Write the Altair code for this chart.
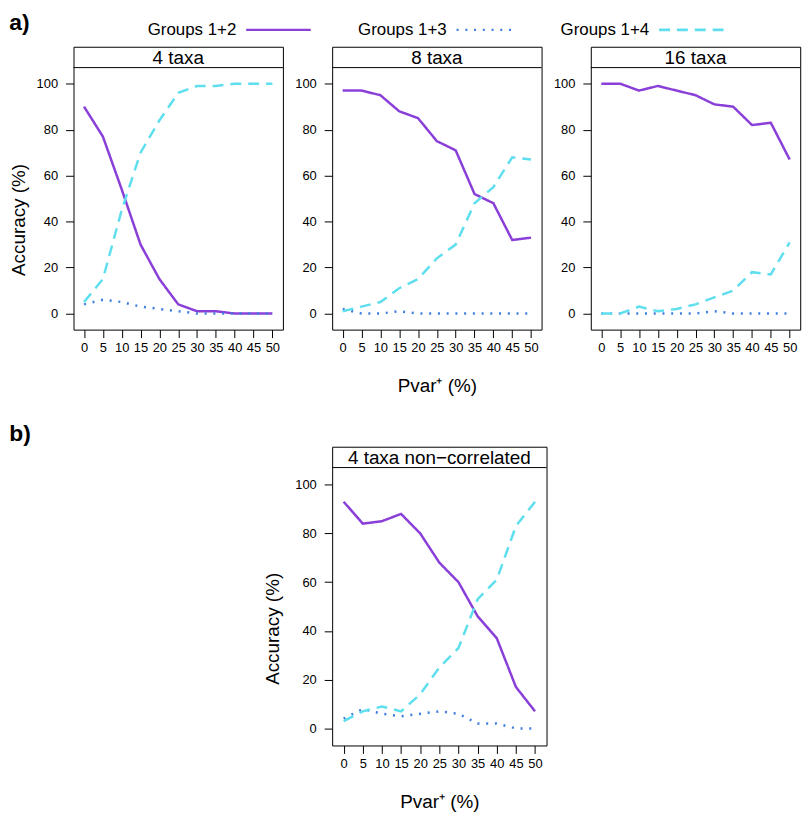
import altair as alt
import pandas as pd

# ---------------- data ----------------
pvar = [0, 5, 10, 15, 20, 25, 30, 35, 40, 45, 50]
groups = ["Groups 1+2", "Groups 1+3", "Groups 1+4"]

t4_g12 = [90, 77, 54, 30, 15, 4, 1, 1, 0, 0, 0]
t4_g13 = [4, 6, 5, 3, 2, 1, 0, 0, 0, 0, 0]
t4_g14 = [5, 15, 45, 70, 84, 96, 99, 99, 100, 100, 100]

t8_g12 = [97, 97, 95, 88, 85, 75, 71, 52, 48, 32, 33]
t8_g13 = [2, 0, 0, 1, 0, 0, 0, 0, 0, 0, 0]
t8_g14 = [1, 3, 5, 11, 15, 24, 30, 48, 55, 68, 67]

t16_g12 = [100, 100, 97, 99, 97, 95, 91, 90, 82, 83, 67]
t16_g13 = [0, 0, 0, 0, 0, 0, 1, 0, 0, 0, 0]
t16_g14 = [0, 0, 3, 1, 2, 4, 7, 10, 18, 17, 31]

nc_g12 = [93, 84, 85, 88, 80, 68, 60, 46, 37, 17, 7]
nc_g13 = [4, 8, 6, 5, 6, 7, 6, 2, 2, 0, 0]
nc_g14 = [3, 7, 9, 7, 14, 25, 33, 53, 61, 83, 93]

panel_titles = ["4 taxa", "8 taxa", "16 taxa", "4 taxa non\u2212correlated"]
y_ticks = [0, 20, 40, 60, 80, 100]
x_title = "Pvar\u207a (%)"
y_title = "Accuracy (%)"

# ---------------- styling ----------------
FONT = "Liberation Sans"
colors = ["#8A3FD8", "#3F7FE0", "#5FDFEE"]
dashes = [[1, 0], [2, 6.8], [11, 7]]
widths = [2.5, 2.5, 3]


def long_df(series):
    rows = []
    for g, vals in zip(groups, series):
        for p, v in zip(pvar, vals):
            rows.append({"pvar": p, "acc": v, "group": g})
    return pd.DataFrame(rows)


one = pd.DataFrame({"k": [0]})


def panel(series, title, width, height, xdom, xtitle=None, ytitle=None,
          ytitle_x=-60, ytitle_y=174, extras=()):
    hdr = 21
    xaxis = alt.Axis(values=pvar, tickSize=8, labelPadding=4, domain=False, grid=False,
                     labelFontSize=13, labelOverlap=False, labelFlush=False,
                     tickColor="black", labelColor="black", labelFont=FONT,
                     title=xtitle, titleFontSize=19, titleFontWeight="normal",
                     titleY=56, titleBaseline="middle", titleColor="black", titleFont=FONT)
    yaxis = alt.Axis(values=y_ticks, tickSize=8, labelPadding=8, domain=False, grid=False,
                     labelFontSize=13, tickColor="black", labelColor="black", labelFont=FONT,
                     title=ytitle, titleFontSize=19, titleFontWeight="normal",
                     titleX=ytitle_x, titleY=ytitle_y, titleBaseline="middle",
                     titleColor="black", titleFont=FONT)
    lines = alt.Chart(long_df(series)).mark_line(strokeCap="butt").encode(
        x=alt.X("pvar:Q", scale=alt.Scale(domain=xdom, nice=False, zero=False), axis=xaxis),
        y=alt.Y("acc:Q", scale=alt.Scale(domain=[-7, 107], range=[height, hdr], nice=False, zero=False),
                axis=yaxis),
        color=alt.Color("group:N", scale=alt.Scale(domain=groups, range=colors), legend=None),
        strokeDash=alt.StrokeDash("group:N", scale=alt.Scale(domain=groups, range=dashes), legend=None),
        strokeWidth=alt.StrokeWidth("group:N", scale=alt.Scale(domain=groups, range=widths), legend=None),
    )
    sep = alt.Chart(one).mark_rule(color="black", strokeWidth=1).encode(
        x=alt.value(0), x2=alt.value(width), y=alt.value(hdr))
    head = alt.Chart(one).mark_text(fontSize=19, font=FONT, color="black", baseline="middle",
                                    align="center").encode(
        x=alt.value(width / 2), y=alt.value(hdr / 2 + 0.5), text=alt.value(title))
    return alt.layer(lines, sep, head, *extras).properties(width=width, height=height)


def label(txt, x, y, size=23, bold=True):
    return alt.Chart(one).mark_text(fontSize=size, font=FONT, fontWeight="bold" if bold else "normal",
                                    color="black", align="left", baseline="top").encode(
        x=alt.value(x), y=alt.value(y), text=alt.value(txt))


# legend (drawn above the first row, coordinates relative to panel 1)
leg_y = -17
leg_items = []
leg_lines = [(174, 239), (386, 443), (590, 655)]
for g, c, d, w, (a, b) in zip(groups, colors, dashes, widths, leg_lines):
    leg_items.append(alt.Chart(one).mark_text(fontSize=17, font=FONT, color="black", align="right",
                                              baseline="middle").encode(
        x=alt.value(a - 10), y=alt.value(leg_y), text=alt.value(g)))
    leg_items.append(alt.Chart(one).mark_rule(color=c, strokeWidth=w, strokeDash=d, strokeCap="butt").encode(
        x=alt.value(a), x2=alt.value(b), y=alt.value(leg_y)))

W_top, H_top = 211, 285
W_bot, H_bot = 216, 301
xdom_top = [-2.8, 52.8]
xdom_bot = [-3, 53]

p1 = panel([t4_g12, t4_g13, t4_g14], panel_titles[0], W_top, H_top, xdom_top,
           ytitle=y_title, ytitle_x=-55, ytitle_y=174,
           extras=[label("a)", -64.7, -35)] + leg_items)
p2 = panel([t8_g12, t8_g13, t8_g14], panel_titles[1], W_top, H_top, xdom_top, xtitle=x_title)
p3 = panel([t16_g12, t16_g13, t16_g14], panel_titles[2], W_top, H_top, xdom_top)

spacer = alt.Chart(one).mark_point(opacity=0).encode(
    x=alt.value(0), y=alt.value(0)).properties(width=W_bot, height=H_bot,
                                               view=alt.ViewBackground(strokeOpacity=0))

pb = panel([nc_g12, nc_g13, nc_g14], panel_titles[3], W_bot, H_bot, xdom_bot,
           xtitle=x_title, ytitle=y_title, ytitle_x=-60, ytitle_y=183,
           extras=[label("b)", -325.3, -24)])

chart = alt.concat(p1, p2, p3, spacer, pb, columns=3,
                   spacing={"row": 102, "column": 44.6}).properties(
    bounds="flush", align="all", padding=0, background="white"
).configure(font=FONT).configure_view(stroke="black", strokeWidth=1)

chart.save("out.html", embed_options={"renderer": "svg", "actions": False})
